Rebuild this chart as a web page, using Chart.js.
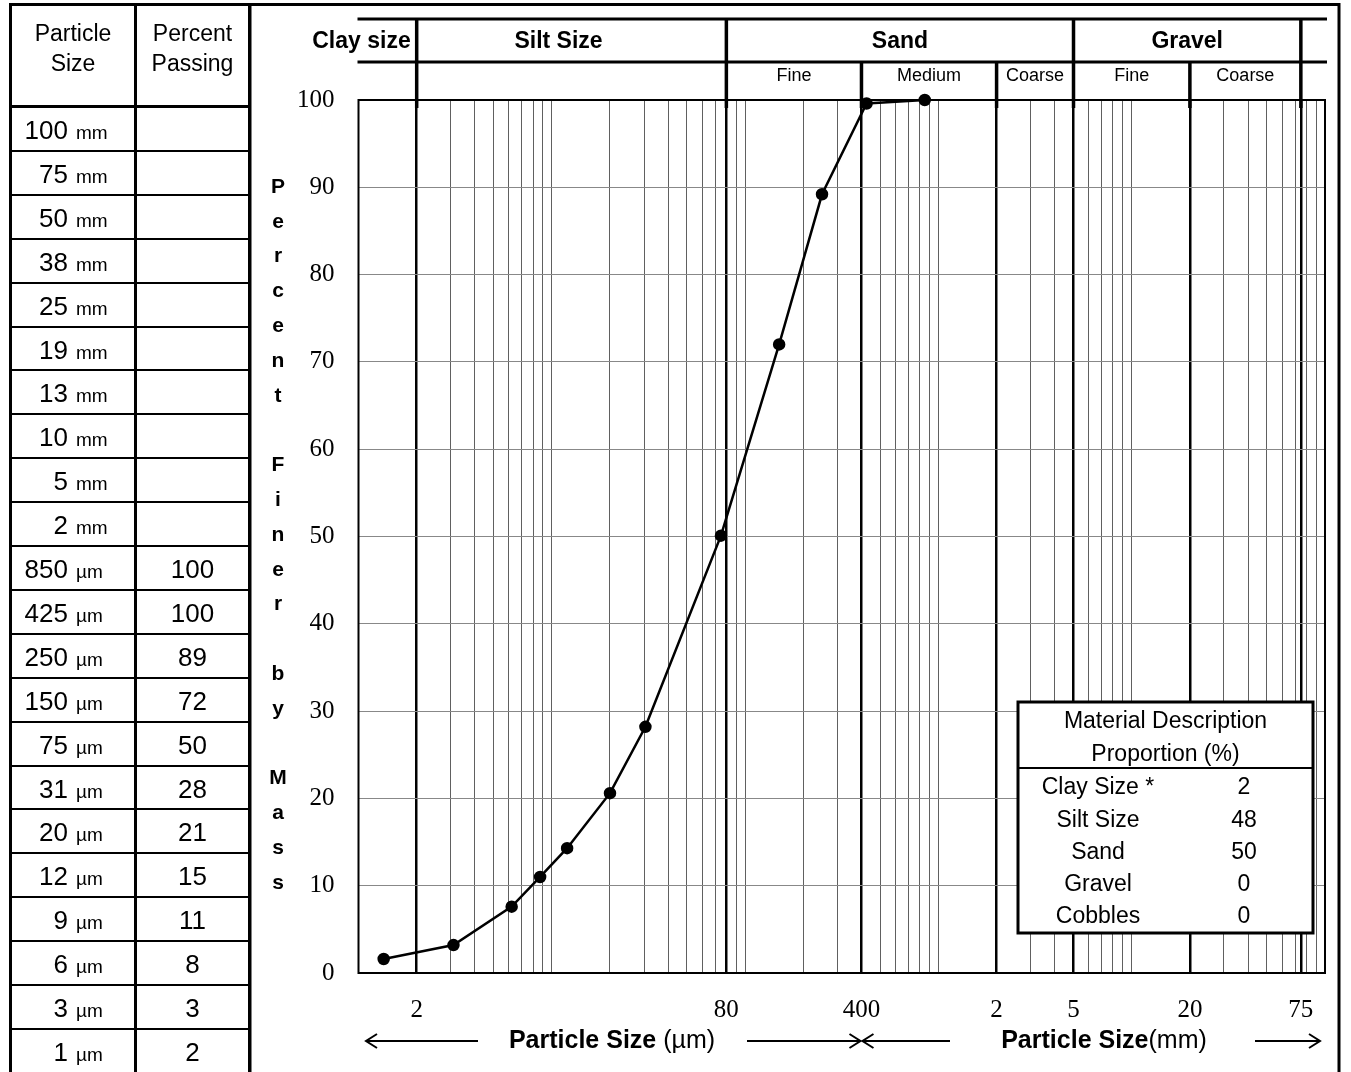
<!DOCTYPE html>
<html>
<head>
<meta charset="utf-8">
<script src="https://cdn.jsdelivr.net/npm/chart.js@4/dist/chart.umd.min.js"></script>
<style>
body{margin:0;background:#fff;width:1351px;height:1072px;overflow:hidden;position:relative;font-family:"Liberation Sans",Arial,sans-serif;color:#000}
#grafico{position:absolute;left:0;top:0}
#tabla{position:absolute;left:0;top:0;width:260px;height:1072px}
#tabla div{position:absolute}
.linea{background:#000}
.celda{height:44px;line-height:44px;white-space:nowrap}
.num{display:inline-block;width:58px;text-align:right;font-size:26px}
.uni{font-size:19px;margin-left:8px}
</style>
</head>
<body>
<canvas id="grafico" width="1351" height="1072"></canvas>
<div id="tabla"></div>
<script>
// tabla de la izquierda
const tamanos = ['100','75','50','38','25','19','13','10','5','2','850','425','250','150','75','31','20','12','9','6','3','1'];
const unidades = ['mm','mm','mm','mm','mm','mm','mm','mm','mm','mm','µm','µm','µm','µm','µm','µm','µm','µm','µm','µm','µm','µm'];
const pasante = ['','','','','','','','','','','100','100','89','72','50','28','21','15','11','8','3','2'];

// puntos de la curva (diametro en µm, % que pasa)
const diametros = [1.35, 3.1, 6.2, 8.7, 12, 20, 30.5, 75, 150, 250, 425, 850];
const finos = [1.6, 3.2, 7.6, 11.0, 14.3, 20.6, 28.2, 50.1, 72.0, 89.2, 99.6, 100];

// rejilla del eje x (µm)
const lineasGrid = [2,3,4,5,6,7,8,9,10,20,30,40,50,60,70,80,90,100,200,300,400,500,600,700,800,900,1000,2000,3000,4000,5000,6000,7000,8000,9000,10000,20000,30000,40000,50000,60000,70000,75000,80000,90000];
const limites = [2,80,400,2000,5000,20000,75000];
const etiquetasX = ['2','80','400','2','5','20','75'];
const ticksY = [0,10,20,30,40,50,60,70,80,90,100];

const fajas = ['Clay size','Silt Size','Sand','Gravel'];
const subFajas = ['Fine','Medium','Coarse','Fine','Coarse'];
const descripcion = ['Clay Size *','Silt Size','Sand','Gravel','Cobbles'];
const proporcion = ['2','48','50','0','0'];

// armar la tabla
var t = document.getElementById('tabla');
var h = '';
h += '<div class="linea" style="left:9px;top:3px;width:3px;height:1080px"></div>';
h += '<div class="linea" style="left:9px;top:3px;width:242px;height:3px"></div>';
h += '<div class="linea" style="left:134px;top:3px;width:3px;height:1080px"></div>';
h += '<div class="linea" style="left:248px;top:3px;width:3px;height:1080px"></div>';
h += '<div class="linea" style="left:9px;top:105px;width:242px;height:3px"></div>';
h += '<div style="left:12px;top:18px;width:122px;text-align:center;font-size:23px;line-height:30px">Particle<br>Size</div>';
h += '<div style="left:137px;top:18px;width:111px;text-align:center;font-size:23px;line-height:30px">Percent<br>Passing</div>';
for (let i = 0; i < tamanos.length; i++) {
    let arriba = 107 + i*43.9;
    if (i > 0) {
        h += '<div class="linea" style="left:9px;top:'+(arriba-1)+'px;width:242px;height:2px"></div>';
    }
    h += '<div class="celda" style="left:10px;top:'+(arriba+1)+'px"><span class="num">'+tamanos[i]+'</span><span class="uni">'+unidades[i]+'</span></div>';
    h += '<div class="celda" style="left:137px;top:'+(arriba+1)+'px;width:111px;text-align:center;font-size:26px">'+pasante[i]+'</div>';
}
t.innerHTML = h;

function flecha(ctx, x, y, dir) {
    ctx.beginPath();
    ctx.moveTo(x - dir*11, y - 7);
    ctx.lineTo(x, y);
    ctx.lineTo(x - dir*11, y + 7);
    ctx.stroke();
}

const marco = {
    id: 'marco',
    beforeDatasetsDraw(chart) {
        const ctx = chart.ctx, ca = chart.chartArea;
        ctx.save();
        ctx.strokeStyle = '#000';
        ctx.lineWidth = 2;
        ctx.strokeRect(ca.left, ca.top, ca.right - ca.left, ca.bottom - ca.top);
        ctx.restore();
    },
    afterDraw(chart) {
        const ctx = chart.ctx, ca = chart.chartArea, x = chart.scales.x;
        const px = v => x.getPixelForValue(v);
        ctx.save();
        ctx.strokeStyle = '#000';
        ctx.fillStyle = '#000';

        // marco exterior
        ctx.lineWidth = 3;
        ctx.beginPath();
        ctx.moveTo(250, 1080); ctx.lineTo(250, 4.5); ctx.lineTo(1339, 4.5); ctx.lineTo(1339, 1080);
        ctx.stroke();

        // encabezado de fajas
        ctx.beginPath();
        ctx.moveTo(ca.left - 1, 19); ctx.lineTo(ca.right + 2, 19);
        ctx.moveTo(ca.left - 1, 62); ctx.lineTo(ca.right + 2, 62);
        ctx.stroke();
        ctx.lineWidth = 3.5;
        ctx.beginPath();
        [2, 80, 5000, 75000].forEach(v => { ctx.moveTo(px(v), 19); ctx.lineTo(px(v), ca.top + 8); });
        [400, 2000, 20000].forEach(v => { ctx.moveTo(px(v), 62); ctx.lineTo(px(v), ca.top + 8); });
        ctx.stroke();

        ctx.font = 'bold 23px "Liberation Sans"';
        ctx.textBaseline = 'middle';
        ctx.textAlign = 'right';
        ctx.fillText(fajas[0], px(2) - 6, 42);
        ctx.textAlign = 'center';
        ctx.fillText(fajas[1], (px(2) + px(80)) / 2 - 13, 42);
        ctx.fillText(fajas[2], (px(80) + px(5000)) / 2, 42);
        ctx.fillText(fajas[3], (px(5000) + px(75000)) / 2, 42);
        ctx.font = '18px "Liberation Sans"';
        const bordes = [80, 400, 2000, 5000, 20000, 75000];
        for (let i = 0; i < subFajas.length; i++) {
            ctx.fillText(subFajas[i], (px(bordes[i]) + px(bordes[i+1])) / 2, 76);
        }

        // titulo eje y en columna
        ctx.font = 'bold 21px "Liberation Sans"';
        const letras = 'Percent Finer by Mass'.split('');
        letras.forEach((l, i) => ctx.fillText(l, 278, 187 + i*34.8));

        // flechas y titulos del eje x
        const yf = 1041;
        ctx.lineWidth = 2;
        ctx.beginPath();
        ctx.moveTo(366, yf); ctx.lineTo(478, yf);
        ctx.moveTo(747, yf); ctx.lineTo(px(400) - 1, yf);
        ctx.moveTo(px(400) + 1, yf); ctx.lineTo(950, yf);
        ctx.moveTo(1255, yf); ctx.lineTo(1320, yf);
        ctx.stroke();
        flecha(ctx, 366, yf, -1);
        flecha(ctx, px(400) - 1, yf, 1);
        flecha(ctx, px(400) + 1, yf, -1);
        flecha(ctx, 1320, yf, 1);

        function titulo(negrita, normal, cx) {
            ctx.font = 'bold 25px "Liberation Sans"';
            const a = ctx.measureText(negrita).width;
            ctx.font = '25px "Liberation Sans"';
            const b = ctx.measureText(normal).width;
            const x0 = cx - (a + b) / 2;
            ctx.textAlign = 'left';
            ctx.font = 'bold 25px "Liberation Sans"';
            ctx.fillText(negrita, x0, yf);
            ctx.font = '25px "Liberation Sans"';
            ctx.fillText(normal, x0 + a, yf);
        }
        titulo('Particle Size', ' (µm)', 612);
        titulo('Particle Size', '(mm)', 1104);

        // cuadro de descripcion
        const bx = 1018, by = 702, bw = 295, bh = 231;
        ctx.fillStyle = '#fff';
        ctx.fillRect(bx, by, bw, bh);
        ctx.lineWidth = 3;
        ctx.strokeRect(bx, by, bw, bh);
        ctx.lineWidth = 2;
        ctx.beginPath();
        ctx.moveTo(bx, 768); ctx.lineTo(bx + bw, 768);
        ctx.stroke();
        ctx.fillStyle = '#000';
        ctx.textAlign = 'center';
        ctx.font = '23px "Liberation Sans"';
        ctx.fillText('Material Description', bx + bw/2, 722);
        ctx.fillText('Proportion (%)', bx + bw/2, 755);
        for (let i = 0; i < descripcion.length; i++) {
            const yy = 788 + i*32.2;
            ctx.fillText(descripcion[i], 1098, yy);
            ctx.fillText(proporcion[i], 1244, yy);
        }
        ctx.restore();
    }
};

var ctx = document.getElementById('grafico').getContext('2d');
var chart = new Chart(ctx, {
    type: 'scatter',
    data: {
        datasets: [{
            data: diametros.map((d, i) => ({x: d, y: finos[i]})),
            showLine: true,
            borderColor: '#000',
            backgroundColor: '#000',
            borderWidth: 2.5,
            pointRadius: 5,
            pointHoverRadius: 5,
            tension: 0,
            clip: false
        }]
    },
    options: {
        responsive: false,
        animation: false,
        devicePixelRatio: 1,
        layout: { padding: { left: 250, right: 26, top: 100, bottom: 0 } },
        plugins: { legend: { display: false }, tooltip: { enabled: false } },
        scales: {
            x: {
                type: 'logarithmic',
                min: 1,
                max: 100000,
                afterBuildTicks: s => { s.ticks = lineasGrid.map(v => ({value: v})); },
                afterFit: s => { s.height = 99; },
                border: { display: false },
                grid: {
                    drawTicks: false,
                    color: c => (c.tick && limites.includes(c.tick.value)) ? '#000' : '#606060',
                    lineWidth: c => (c.tick && limites.includes(c.tick.value)) ? 2.5 : 1
                },
                ticks: {
                    autoSkip: false,
                    maxRotation: 0,
                    padding: 22,
                    color: '#000',
                    font: { family: 'Liberation Serif', size: 25 },
                    callback: v => { const i = limites.indexOf(v); return i >= 0 ? etiquetasX[i] : ''; }
                }
            },
            y: {
                min: 0,
                max: 100,
                afterBuildTicks: s => { s.ticks = ticksY.map(v => ({value: v})); },
                afterFit: s => { s.width = 108.5; },
                border: { display: false },
                grid: { drawTicks: false, color: '#888', lineWidth: 1 },
                ticks: {
                    padding: 24,
                    color: '#000',
                    font: { family: 'Liberation Serif', size: 25 }
                }
            }
        }
    },
    plugins: [marco]
});
</script>
</body>
</html>
